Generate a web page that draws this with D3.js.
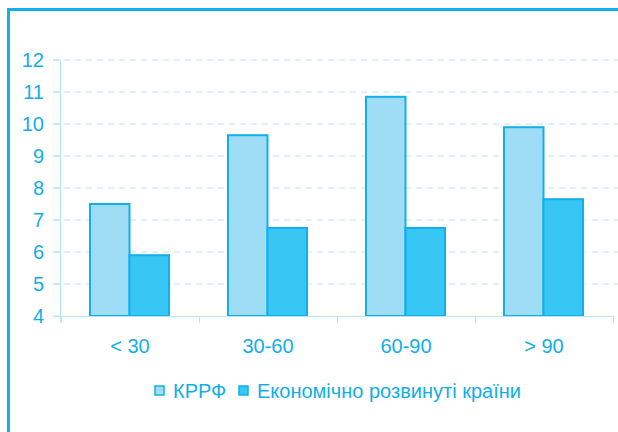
<!DOCTYPE html>
<html>
<head>
<meta charset="utf-8">
<script src="https://cdn.jsdelivr.net/npm/d3@7"></script>
<style>
  body { margin: 0; background: #fff; }
  text { font-family: "Liberation Sans", Arial, sans-serif; fill: #12aee8; }
</style>
</head>
<body>
<script>
var categories = ["< 30", "30-60", "60-90", "> 90"];
var seriesNames = ["КРРФ", "Економічно розвинуті країни"];
var krrf = [7.5, 9.65, 10.85, 9.9];
var developed = [5.9, 6.75, 6.75, 7.65];
var yTicks = [4, 5, 6, 7, 8, 9, 10, 11, 12];

var width = 618, height = 432;
var colors = ["#9fdcf6", "#38c7f4"];
var lineColor = "#12b0ea";

var svg = d3.select("body").append("svg")
    .attr("width", width)
    .attr("height", height);

// frame (cut off on right and bottom)
svg.append("path")
    .attr("d", "M8.5,440 L8.5,9.5 L630,9.5")
    .style("fill", "none")
    .style("stroke", lineColor)
    .style("stroke-width", 3);

var x = d3.scaleBand().domain(categories).range([61, 613]);
var inner = d3.scaleBand().domain(seriesNames).range([0, 79]);
var y = d3.scaleLinear().domain([4, 12]).range([316, 60]);

// grid
svg.append("g").selectAll("line")
    .data(yTicks.slice(1))
    .enter().append("line")
    .attr("x1", 53).attr("x2", 618)
    .attr("y1", function (d) { return y(d); })
    .attr("y2", function (d) { return y(d); })
    .style("stroke", "#b3e6f7")
    .style("stroke-width", 1)
    .style("stroke-dasharray", "6,5");

// tick marks on the left
svg.append("g").selectAll("line")
    .data(yTicks)
    .enter().append("line")
    .attr("x1", 53).attr("x2", 60)
    .attr("y1", function (d) { return y(d); })
    .attr("y2", function (d) { return y(d); })
    .style("stroke", "#b3e6f7");

// y axis line
svg.append("line")
    .attr("x1", 60.5).attr("x2", 60.5)
    .attr("y1", 60).attr("y2", 322)
    .style("stroke", "#b3e6f7");

// y labels
svg.append("g").selectAll("text")
    .data(yTicks)
    .enter().append("text")
    .attr("x", 44)
    .attr("y", function (d) { return y(d) + 7; })
    .style("text-anchor", "end")
    .style("font-size", "20px")
    .text(function (d) { return d; });

// bars
var groups = svg.append("g").selectAll("g")
    .data(categories)
    .enter().append("g")
    .attr("transform", function (d) { return "translate(" + (x(d) + x.bandwidth() / 2 - 40) + ",0)"; });

groups.selectAll("rect")
    .data(function (d, i) { return [krrf[i], developed[i]]; })
    .enter().append("rect")
    .attr("x", function (d, j) { return inner(seriesNames[j]); })
    .attr("y", function (d) { return y(d); })
    .attr("width", inner.bandwidth())
    .attr("height", function (d) { return y(4) - y(d); })
    .style("fill", function (d, j) { return colors[j]; })
    .style("stroke", lineColor)
    .style("stroke-width", 2);

// x axis
svg.append("line")
    .attr("x1", 53).attr("x2", 613)
    .attr("y1", 316.5).attr("y2", 316.5)
    .style("stroke", "#b3e6f7");

var xTicks = categories.map(function (d) { return x(d); }).concat([x.range()[1]]);
svg.append("g").selectAll("line")
    .data(xTicks)
    .enter().append("line")
    .attr("x1", function (d) { return d + 0.5; })
    .attr("x2", function (d) { return d + 0.5; })
    .attr("y1", 316).attr("y2", 323)
    .style("stroke", "#b3e6f7");

svg.append("g").selectAll("text")
    .data(categories)
    .enter().append("text")
    .attr("x", function (d) { return x(d) + x.bandwidth() / 2; })
    .attr("y", 353)
    .style("text-anchor", "middle")
    .style("font-size", "20px")
    .text(function (d) { return d; });

// legend
var legendX = [155, 239];
var legend = svg.append("g").selectAll("g")
    .data(seriesNames)
    .enter().append("g")
    .attr("transform", function (d, i) { return "translate(" + legendX[i] + ",386)"; });

legend.append("rect")
    .attr("width", 9).attr("height", 9)
    .style("fill", function (d, i) { return colors[i]; })
    .style("stroke", lineColor)
    .style("stroke-width", 1.5);

legend.append("text")
    .attr("x", 18)
    .attr("y", 12)
    .style("font-size", "20px")
    .text(function (d) { return d; });
</script>
</body>
</html>
